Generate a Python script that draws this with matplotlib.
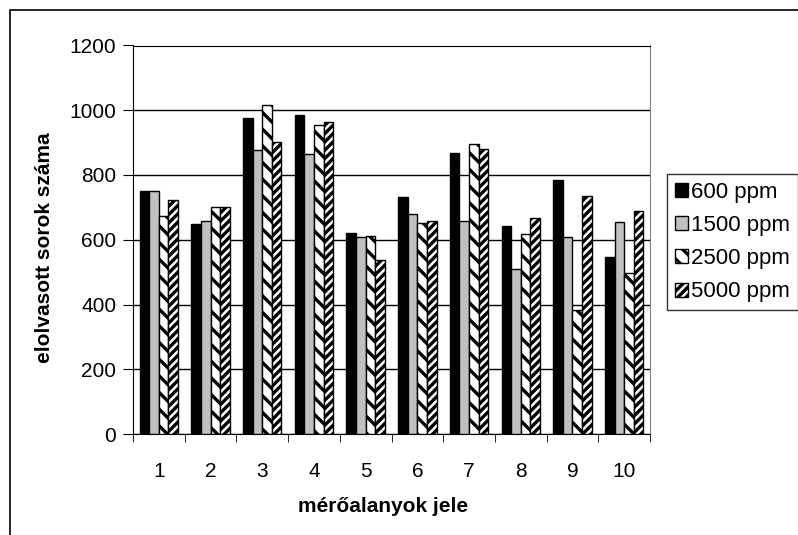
import numpy as np
import matplotlib.pyplot as plt
from matplotlib.patches import Rectangle

plt.rcParams['font.family'] = ['Liberation Sans', 'DejaVu Sans']
plt.rcParams['hatch.linewidth'] = 2.4

subjects = [1, 2, 3, 4, 5, 6, 7, 8, 9, 10]
labels = ['600 ppm', '1500 ppm', '2500 ppm', '5000 ppm']
ppm600 = [751, 648, 975, 985, 621, 733, 868, 644, 785, 548]
ppm1500 = [750, 659, 878, 865, 609, 678, 657, 509, 609, 654]
ppm2500 = [674, 700, 1015, 955, 612, 652, 896, 618, 384, 498]
ppm5000 = [722, 700, 902, 963, 537, 657, 881, 668, 736, 689]

series = [ppm600, ppm1500, ppm2500, ppm5000]
faces = ['black', '#c0c0c0', 'white', 'white']
hatches = [None, None, '\\\\', '////']

fig = plt.figure(figsize=(7.98, 5.35), dpi=100)
ax = fig.add_axes([133/798, 1-434/535, (650-133)/798, (434-45.5)/535])

x = np.array(subjects)
w = 0.186
for i, vals in enumerate(series):
    ax.bar(x + (i - 1.5)*w, vals, w, color=faces[i], edgecolor='black',
           linewidth=1, hatch=hatches[i], label=labels[i], zorder=3)

ax.set_ylim(0, 1200)
ax.set_yticks(range(0, 1201, 200))
ax.set_xlim(0.5, 10.5)
ax.set_xticks(x)
ax.set_xticks(np.arange(0.5, 11, 1), minor=True)
ax.tick_params(axis='x', which='major', length=0, pad=20, labelsize=15)
ax.tick_params(axis='x', which='minor', length=6, direction='out')
ax.tick_params(axis='y', length=7, direction='out', pad=5, labelsize=15)
ax.yaxis.grid(True, color='black', linewidth=1, zorder=0)
ax.set_axisbelow(True)

for s in ['left', 'bottom', 'top']:
    ax.spines[s].set_color('black')
ax.spines['right'].set_color('#808080')

ax.set_xlabel('mérőalanyok jele', fontsize=15, fontweight='bold', va='center')
ax.xaxis.set_label_coords(0.483, (434-506)/388.5)
ax.set_ylabel('elolvasott sorok száma', fontsize=15, fontweight='bold', va='center')
ax.yaxis.set_label_coords((45-133)/517, 0.48)

leg = fig.legend(loc='upper left', bbox_to_anchor=(667/798, 1-174/535),
                 borderaxespad=0, fontsize=16, frameon=True, fancybox=False,
                 edgecolor='black', handlelength=0.6, handleheight=0.6,
                 handletextpad=0.15, labelspacing=0.55, borderpad=0.35)
leg.get_frame().set_linewidth(1)

fig.add_artist(Rectangle((10/798, -0.1), 1.0, 1.1 - 10/535, transform=fig.transFigure,
                         fill=False, edgecolor='black', linewidth=1.2))

fig.savefig('out.png', dpi=100)
